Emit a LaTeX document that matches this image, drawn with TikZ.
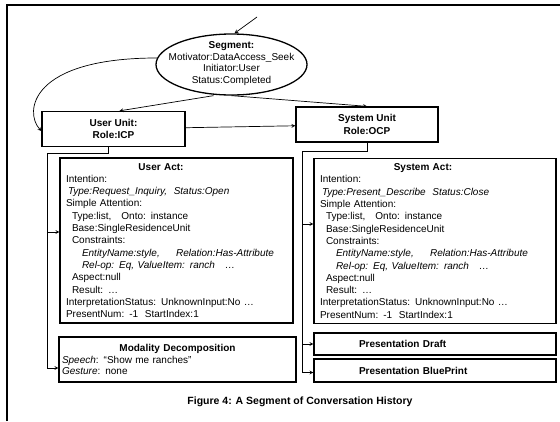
\documentclass[tikz,border=0pt]{standalone}
\usepackage{fontspec}
\setmainfont{Liberation Sans}
\usetikzlibrary{arrows,positioning,shapes.geometric}

\newcommand{\figfont}{\fontsize{10}{12.3}\selectfont}

\tikzset{
	boxnode/.style={draw, line width=1.3pt, inner sep=0pt},
	unitbox/.style={boxnode, minimum height=35pt, align=center, font={\figfont\bfseries}},
	actbox/.style={boxnode, align=left, inner xsep=6pt, minimum height=165pt},
	presbox/.style={boxnode, align=left, inner xsep=6pt, minimum width=242pt, text width=230pt, minimum height=22pt},
	link/.style={-stealth, line width=0.7pt},
	wire/.style={line width=0.7pt}
}

\begin{document}
\begin{tikzpicture}[x=1pt, y=-1pt, font=\figfont]
	\useasboundingbox (0,0) rectangle (560,421);
	\draw[line width=1.4pt] (7,421) -- (7,5) -- (560,5);
	
	\node (seg) at (231.5,64.5) [ellipse, draw, line width=1.3pt, minimum width=151pt, minimum height=61pt] {};
	\node (segtext) at (231.5,63.5) [align=center, inner sep=0pt, font={\fontsize{10}{11.8}\selectfont}] {\textbf{Segment:}\\Motivator:DataAccess\_Seek\\Initiator:User\\Status:Completed};
	
	\node (uunit) at (113.5,129) [unitbox, minimum width=143pt] {User Unit:\\Role:ICP};
	\node (sunit) at (367,124.5) [unitbox, minimum width=142pt] {System Unit\\Role:OCP};
	
	\node (uact) at (176.5,240.5) [actbox, text width=221pt] {\makebox[190pt]{\textbf{User Act:}}\\
		Intention:\\
		\hspace*{2pt}\textit{Type:Request\_Inquiry,\ \ Status:Open}\\
		Simple Attention:\\
		\hspace*{6pt}Type:list,\ \ \ Onto: instance\\
		\hspace*{6pt}Base:SingleResidenceUnit\\
		\hspace*{6pt}Constraints:\\
		\hspace*{16pt}\textit{EntityName:style,\hspace{13pt} Relation:Has-Attribute}\\
		\hspace*{16pt}\textit{Rel-op: Eq, ValueItem: ranch\ \ \ …}\\
		\hspace*{6pt}Aspect:null\\
		\hspace*{6pt}Result: …\\
		InterpretationStatus: UnknownInput:No …\\
		PresentNum: -1\ \ StartIndex:1};
	\node (sact) at (435,241) [actbox, text width=230pt] {\makebox[206pt]{\textbf{System Act:}}\\
		Intention:\\
		\hspace*{2pt}\textit{Type:Present\_Describe\ \ Status:Close}\\
		Simple Attention:\\
		\hspace*{6pt}Type:list,\ \ \ Onto: instance\\
		\hspace*{6pt}Base:SingleResidenceUnit\\
		\hspace*{6pt}Constraints:\\
		\hspace*{16pt}\textit{EntityName:style,\hspace{13pt} Relation:Has-Attribute}\\
		\hspace*{16pt}\textit{Rel-op: Eq, ValueItem: ranch\ \ \ …}\\
		\hspace*{6pt}Aspect:null\\
		\hspace*{6pt}Result: …\\
		InterpretationStatus: UnknownInput:No …\\
		PresentNum: -1\ \ StartIndex:1};
	
	\node (mod) at (177.5,359.5) [boxnode, minimum width=237pt, text width=231pt, inner xsep=3pt, minimum height=45pt, align=left, font={\fontsize{10}{11.2}\selectfont}] {\makebox[\linewidth]{\textbf{Modality Decomposition}}\\
		\textit{Speech}: “Show me ranches”\\
		\textit{Gesture}: none};
	\node (pdraft) at (435,344) [presbox] {\hspace*{39pt}\textbf{Presentation Draft}};
	\node (pblue) at (435,370.5) [presbox, minimum height=23pt] {\hspace*{39pt}\textbf{Presentation BluePrint}};
	
	\node (caption) at (300,402) [font={\fontsize{10.5}{12}\selectfont\bfseries}] {Figure 4: A Segment of Conversation History};
	
	\coordinate (entry) at (257,17);
	\coordinate (ubus) at (47,153);
	\coordinate (sbus) at (302,151);
	
	\draw[link] (entry) -- ([xshift=3pt]seg.north);
	\draw[link] ([xshift=-18pt]seg.south) -- ([xshift=6pt]uunit.north);
	\draw[link] (seg.south) -- (sunit.north);
	\draw[link] (seg.175) .. controls (30,58) and (24,112) .. ([yshift=-2pt]uunit.west);
	\draw[link] (uunit) -- (sunit);
	
	\draw[wire] ([xshift=-5.5pt]uunit.south) |- (ubus);
	\draw[link] (ubus) |- ([yshift=8.5pt]uact.west);
	\draw[link] (ubus) |- ([yshift=-8.5pt]mod.west);
	
	\draw[wire] (sunit.south) |- (sbus);
	\draw[link] (sbus) |- ([yshift=17pt]sact.west);
	\draw[link] (sbus) |- (pdraft.west);
	\draw[link] (sbus) |- ([yshift=-2pt]pblue.west);
\end{tikzpicture}
\end{document}
